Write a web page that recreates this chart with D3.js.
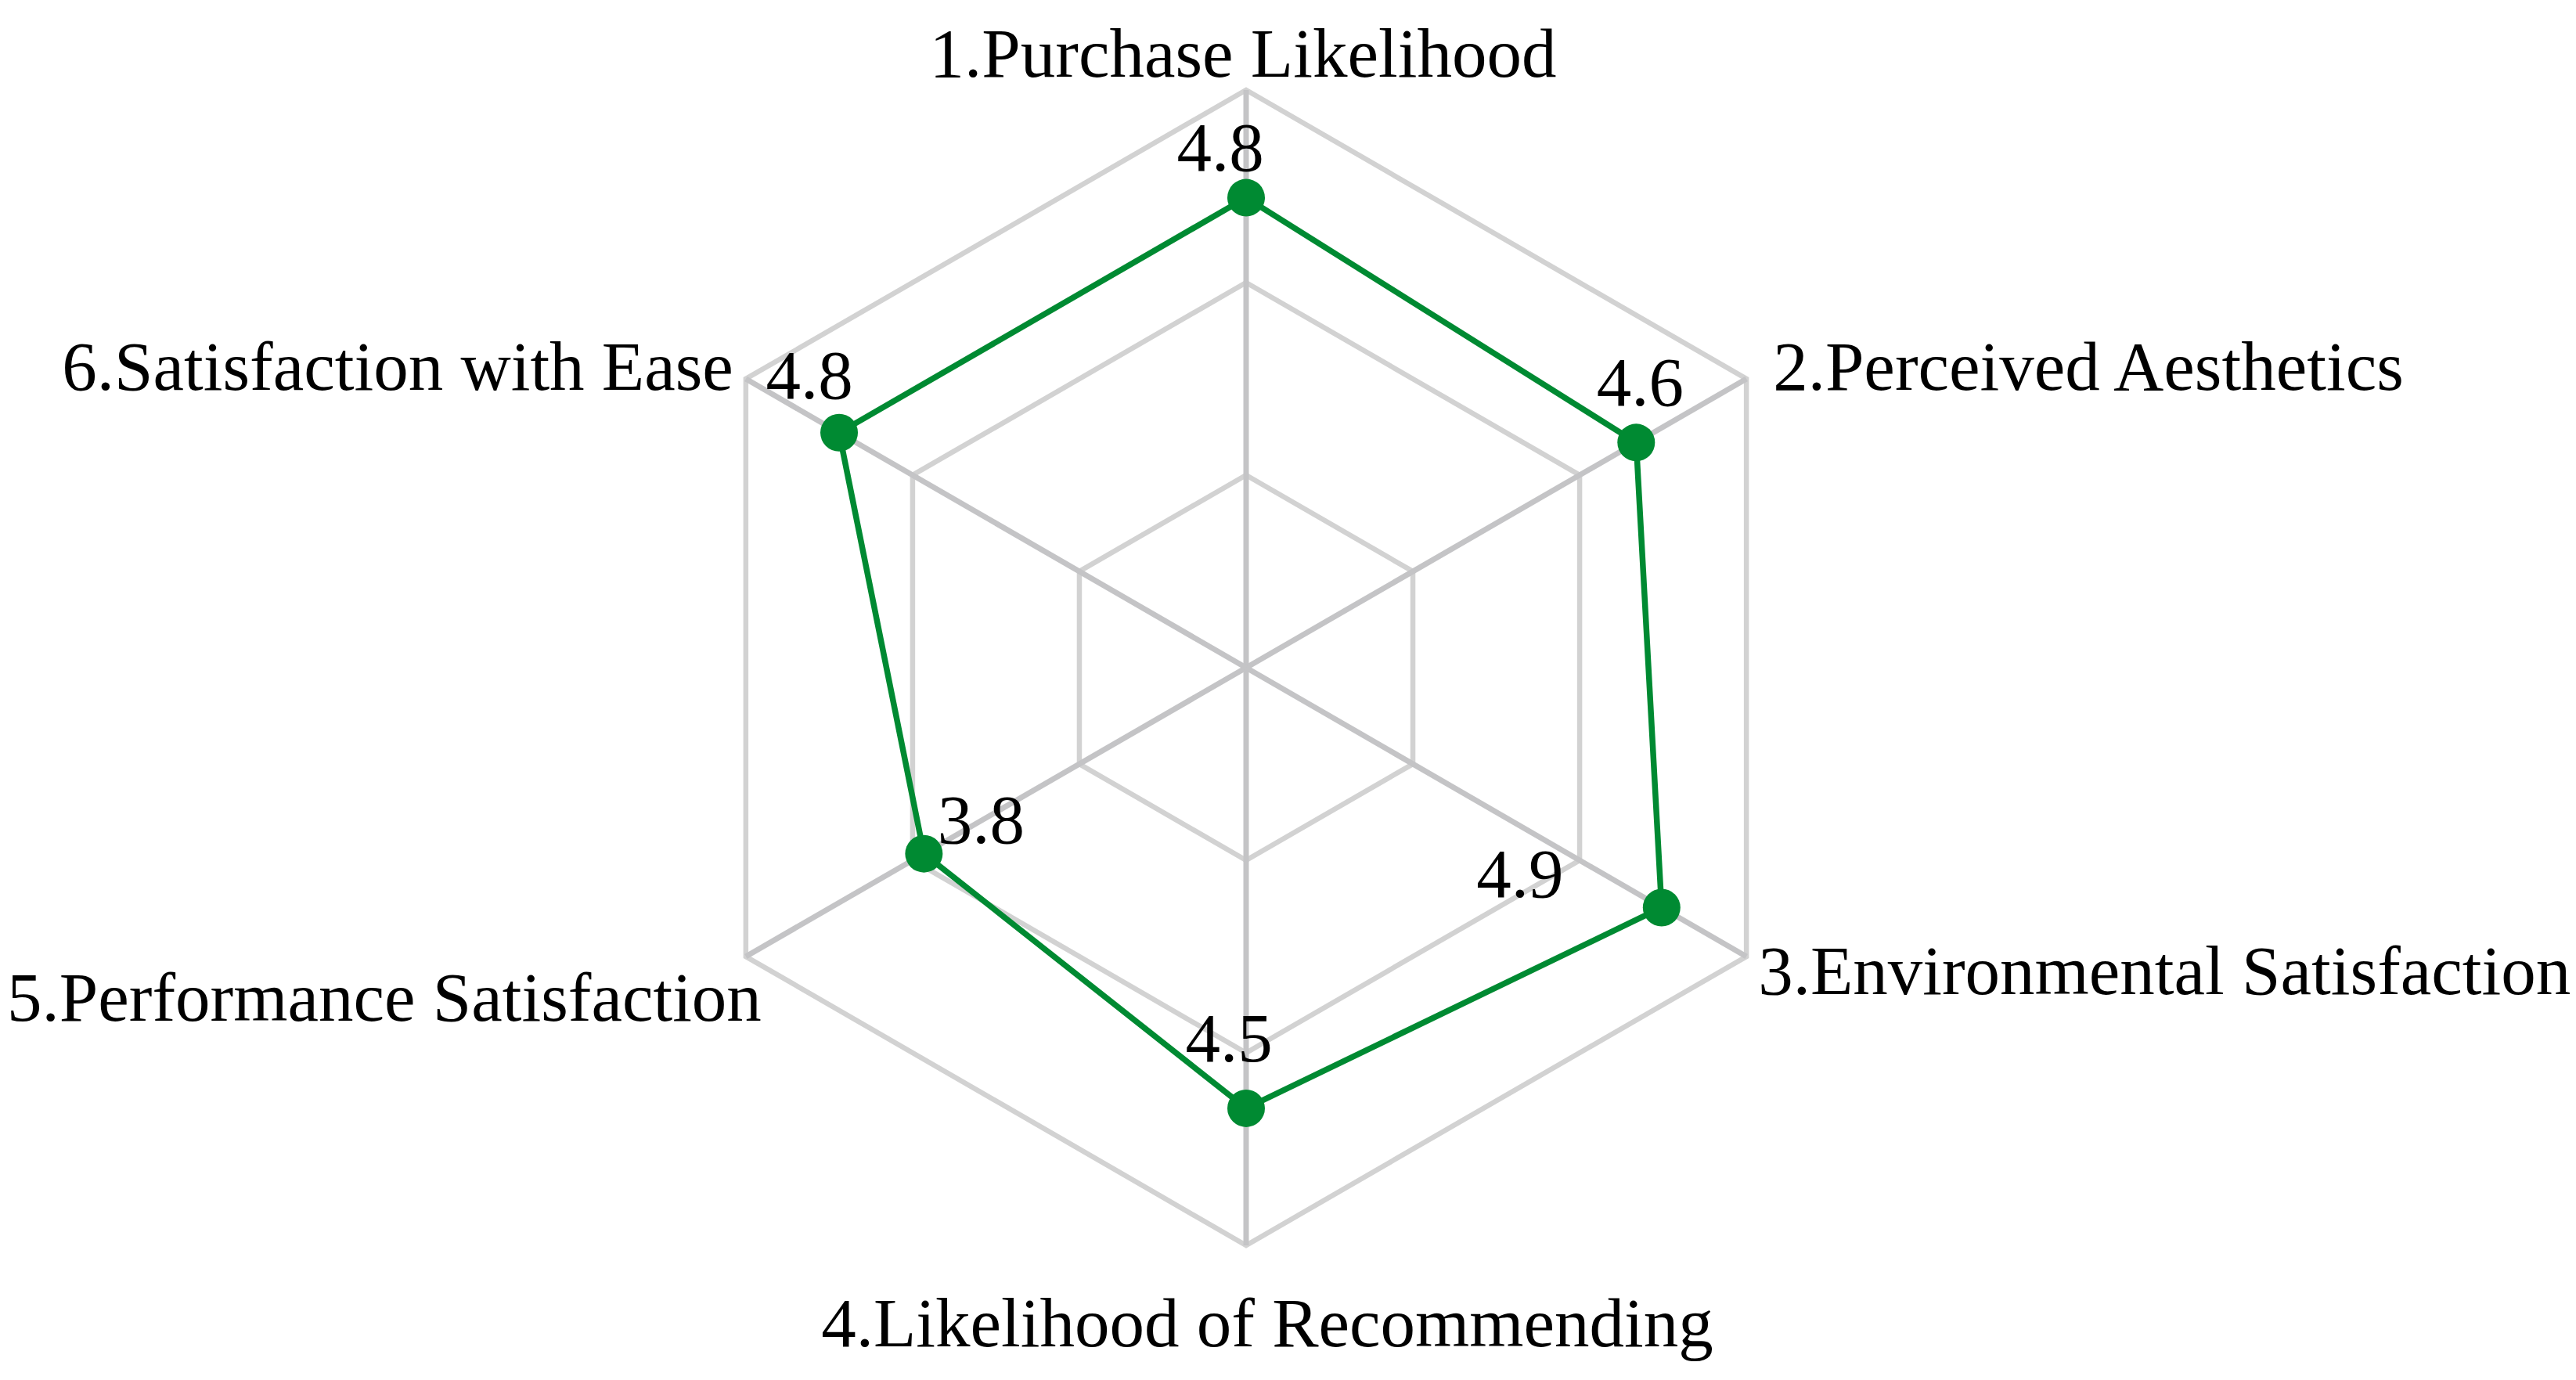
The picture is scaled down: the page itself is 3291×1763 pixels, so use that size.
<!DOCTYPE html>
<html>
<head>
<meta charset="utf-8">
<script src="https://cdn.jsdelivr.net/npm/d3@7"></script>
<style>
  html, body { margin: 0; padding: 0; background: #fff; }
  svg { display: block; font-family: "Liberation Serif", "Times New Roman", serif; }
</style>
</head>
<body>
<svg></svg>
<script>
// data
const categories = [
    "1.Purchase Likelihood",
    "2.Perceived Aesthetics",
    "3.Environmental Satisfaction",
    "4.Likelihood of Recommending",
    "5.Performance Satisfaction",
    "6.Satisfaction with Ease"
];
const scores = [4.8, 4.6, 4.9, 4.5, 3.8, 4.8];
const levels = [1, 2, 3];

const WIDTH = 3291;
const HEIGHT = 1763;
const CENTER = {x: 1592, y: 853};
const RADIUS = 738;
const FONT = 89;

// label placement around each axis end (anchor, dx, dy from the vertex)
const catPos = [
    {anchor: 'middle', dx: -4, dy: -17},
    {anchor: 'start', dx: 34, dy: 14},
    {anchor: 'start', dx: 15, dy: 48},
    {anchor: 'middle', dx: 27, dy: 129},
    {anchor: 'end', dx: 20, dy: 82},
    {anchor: 'end', dx: -16, dy: 14}
];
// value label offsets from the dot
const valPos = [
    {dx: -33, dy: -35},
    {dx: 5, dy: -47},
    {dx: -181, dy: -13},
    {dx: -22, dy: -60},
    {dx: 73, dy: -14},
    {dx: -38, dy: -44}
];

const svg = d3.select('svg')
.attr('width', WIDTH)
.attr('height', HEIGHT);

const chart = svg.append('g')
.attr('transform', `translate(${CENTER.x}, ${CENTER.y})`);

//scales
const angle = d3.scalePoint()
.domain(categories)
.range([0, 2 * Math.PI * (categories.length - 1) / categories.length]);
const rScale = d3.scaleLinear().domain([0, 5.9]).range([0, RADIUS]);
const levelScale = d3.scaleLinear().domain([0, levels.length]).range([0, RADIUS]);

const pt = (a, r) => [r * Math.sin(a), -r * Math.cos(a)];

//grid hexagons
const hexLine = d3.line();
chart.selectAll('.level')
.data(levels)
.enter()
.append('path')
.attr('d', lv => hexLine(categories.map(c => pt(angle(c), levelScale(lv)))) + 'Z')
.style('fill', 'none')
.style('stroke', '#d2d2d2')
.style('stroke-width', 6.5)
.style('stroke-linejoin', 'miter');

//spokes
chart.selectAll('.spoke')
.data(categories)
.enter()
.append('line')
.attr('x1', 0).attr('y1', 0)
.attr('x2', c => pt(angle(c), RADIUS)[0])
.attr('y2', c => pt(angle(c), RADIUS)[1])
.style('stroke', '#c4c4c6')
.style('stroke-width', 7);

//category labels
chart.selectAll('.cat')
.data(categories)
.enter()
.append('text')
.text(c => c)
.attr('x', (c, i) => pt(angle(c), RADIUS)[0] + catPos[i].dx)
.attr('y', (c, i) => pt(angle(c), RADIUS)[1] + catPos[i].dy)
.attr('text-anchor', (c, i) => catPos[i].anchor)
.style('font-size', FONT + 'px')
.style('fill', '#000');

//score polygon
const points = categories.map((c, i) => pt(angle(c), rScale(scores[i])));
chart.append('path')
.attr('d', d3.line()(points) + 'Z')
.style('fill', 'none')
.style('stroke', '#008a32')
.style('stroke-width', 7.5);

chart.selectAll('.dot')
.data(points)
.enter()
.append('circle')
.attr('cx', p => p[0])
.attr('cy', p => p[1])
.attr('r', 24)
.style('fill', '#008a32');

//value labels
chart.selectAll('.val')
.data(scores)
.enter()
.append('text')
.text(v => v.toFixed(1))
.attr('x', (v, i) => points[i][0] + valPos[i].dx)
.attr('y', (v, i) => points[i][1] + valPos[i].dy)
.attr('text-anchor', 'middle')
.style('font-size', FONT + 'px')
.style('fill', '#000');
</script>
</body>
</html>
